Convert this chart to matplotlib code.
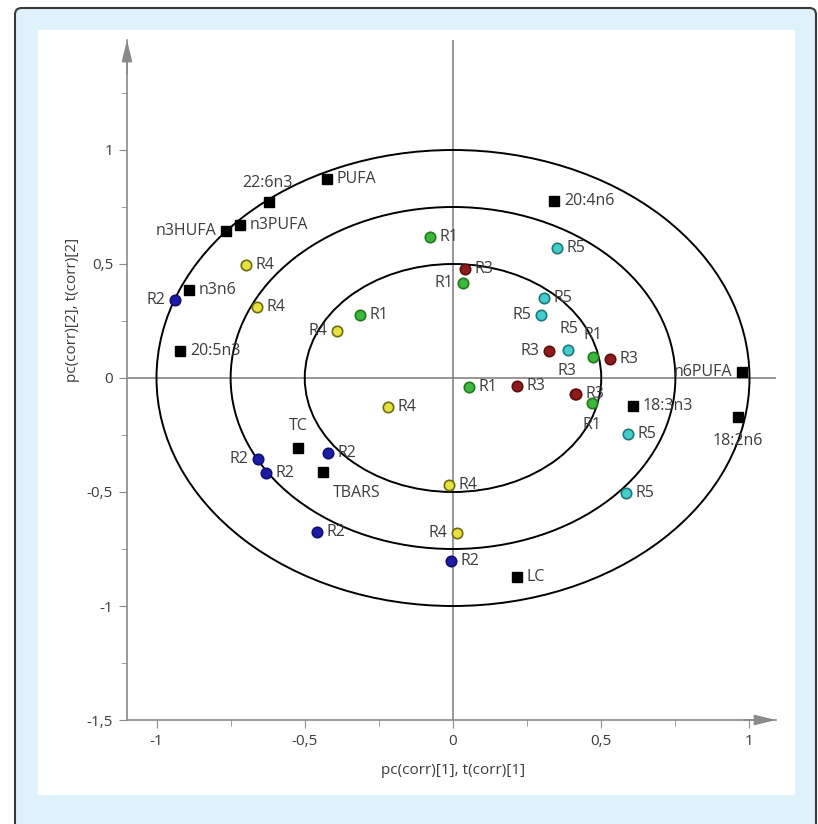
import matplotlib
matplotlib.use('Agg')
import matplotlib.pyplot as plt
from matplotlib.patches import FancyBboxPatch, Rectangle, Ellipse
from matplotlib.ticker import MultipleLocator, FuncFormatter

plt.rcParams['font.family'] = ['Open Sans', 'DejaVu Sans']

# loadings (black squares)
var_names = ['PUFA', '22:6n3', 'n3PUFA', 'n3HUFA', 'n3n6', '20:5n3', '20:4n6',
             'n6PUFA', '18:3n3', '18:2n6', 'TC', 'TBARS', 'LC']
var_x = [-0.425, -0.62, -0.718, -0.765, -0.89, -0.92, 0.341,
         0.975, 0.607, 0.961, -0.523, -0.438, 0.216]
var_y = [0.873, 0.770, 0.672, 0.645, 0.386, 0.118, 0.776,
         0.026, -0.123, -0.171, -0.307, -0.412, -0.873]

# scores, one list per group
r1_x = [-0.078, 0.034, -0.314, 0.054, 0.472, 0.469]
r1_y = [0.618, 0.417, 0.276, -0.039, 0.092, -0.110]
r2_x = [-0.938, -0.422, -0.658, -0.631, -0.459, -0.007]
r2_y = [0.342, -0.329, -0.355, -0.417, -0.675, -0.803]
r3_x = [0.040, 0.324, 0.530, 0.216, 0.413, 0.415]
r3_y = [0.478, 0.120, 0.083, -0.035, -0.068, -0.070]
r4_x = [-0.698, -0.661, -0.391, -0.219, -0.013, 0.013]
r4_y = [0.496, 0.311, 0.206, -0.127, -0.469, -0.680]
r5_x = [0.351, 0.307, 0.297, 0.388, 0.590, 0.583]
r5_y = [0.570, 0.351, 0.276, 0.123, -0.246, -0.504]

radii = [1.0, 0.75, 0.5]

# label placement (offset in points)
R = (7, 0, 'left', 'center')
L = (-7, 0, 'right', 'center')
var_lbl = [R, (-1, 14, 'center', 'center'), R, L, R, R, R, L, R,
           (0, -17, 'center', 'center'), (0, 16, 'center', 'center'),
           (7, -15, 'left', 'center'), R]
r1_lbl = [R, L, R, R, (0, 16, 'center', 'center'), (0, -16, 'center', 'center')]
r2_lbl = [L, R, L, R, R, R]
r3_lbl = [R, L, R, R, (-6, 16, 'center', 'center'), R]
r4_lbl = [R, R, L, R, R, L]
r5_lbl = [R, R, L, (1, 15, 'center', 'center'), R, R]

W, H = 818, 824
fig = plt.figure(figsize=(W / 100, H / 100), dpi=100)

def fx(px):
    return px / W

def fy(py):
    return 1 - py / H

# frame
fig.patches.append(FancyBboxPatch((fx(15), fy(850)), fx(816) - fx(15), fy(8) - fy(850),
                                  boxstyle='round,pad=0,rounding_size=0.008',
                                  transform=fig.transFigure, fc='#dff1fb', ec='#3a3a3a',
                                  lw=1.5, zorder=-3))
fig.patches.append(Rectangle((fx(38), fy(795)), fx(795) - fx(38), fy(30) - fy(795),
                             transform=fig.transFigure, fc='white', ec='none', zorder=-2))

ax_l, ax_r, ax_t, ax_b = 127, 776, 40, 720
ax = fig.add_axes([fx(ax_l), fy(ax_b), fx(ax_r) - fx(ax_l), fy(ax_t) - fy(ax_b)])
ax.set_facecolor('none')
x0, sx = 453, 296.5
y0, sy = 378, 228
ax.set_xlim((ax_l - x0) / sx, (ax_r - x0) / sx)
ax.set_ylim(-1.5, (y0 - ax_t) / sy)

axcol = '#8a8a8a'
txtcol = '#3c3c3c'
for s in ['top', 'right']:
    ax.spines[s].set_visible(False)
for s in ['left', 'bottom']:
    ax.spines[s].set_color(axcol)
    ax.spines[s].set_linewidth(1.2)

ax.xaxis.set_major_locator(MultipleLocator(0.5))
ax.xaxis.set_minor_locator(MultipleLocator(0.25))
ax.yaxis.set_major_locator(MultipleLocator(0.5))
ax.yaxis.set_minor_locator(MultipleLocator(0.25))
fmt = FuncFormatter(lambda v, p: ('%g' % v).replace('.', ','))
ax.xaxis.set_major_formatter(fmt)
ax.yaxis.set_major_formatter(fmt)
ax.tick_params(which='major', length=6, color=axcol, labelsize=11, labelcolor=txtcol, pad=4)
ax.tick_params(which='minor', length=4, color=axcol)

# arrow heads on the axes
arr = dict(arrowstyle='-|>,head_length=1.3,head_width=0.32', color=axcol, lw=1.2,
           mutation_scale=10, shrinkA=0, shrinkB=0)
ax.annotate('', xy=(0, 1), xytext=(0, 0.95), xycoords='axes fraction', arrowprops=arr)
ax.annotate('', xy=(1, 0), xytext=(0.95, 0), xycoords='axes fraction', arrowprops=arr)

ax.axhline(0, color='#7a7a7a', lw=1.1, zorder=1)
ax.axvline(0, color='#7a7a7a', lw=1.1, zorder=1)

for r in radii:
    ax.add_patch(Ellipse((0, 0), 2 * r, 2 * r, fill=False, ec='black', lw=1.4, zorder=2))

def put_labels(xs, ys, names, lbls):
    for x, y, n, (dx, dy, ha, va) in zip(xs, ys, names, lbls):
        ax.annotate(n, (x, y), xytext=(dx, dy), textcoords='offset points',
                    ha=ha, va=va, fontsize=11.5, color=txtcol, zorder=6)

ax.plot(var_x, var_y, 's', ms=7, color='black', zorder=4, ls='none')
put_labels(var_x, var_y, var_names, var_lbl)

groups = [
    (r1_x, r1_y, 'R1', r1_lbl, '#3cb83c', '#1f7a1f'),
    (r2_x, r2_y, 'R2', r2_lbl, '#1c1ca8', '#10106e'),
    (r3_x, r3_y, 'R3', r3_lbl, '#8e1c1c', '#5e1010'),
    (r4_x, r4_y, 'R4', r4_lbl, '#e6e040', '#6e6a10'),
    (r5_x, r5_y, 'R5', r5_lbl, '#44cccc', '#1f7878'),
]
for xs, ys, name, lbls, fc, ec in groups:
    ax.plot(xs, ys, 'o', ms=7.5, mfc=fc, mec=ec, mew=1.2, ls='none', zorder=5)
    put_labels(xs, ys, [name] * len(xs), lbls)

fig.text(fx(453), fy(770), 'pc(corr)[1], t(corr)[1]', ha='center', va='center',
         fontsize=11, color=txtcol)
fig.text(fx(73), fy(310), 'pc(corr)[2], t(corr)[2]', ha='center', va='center',
         rotation=90, fontsize=11, color=txtcol)

fig.savefig('out.png', dpi=100)
